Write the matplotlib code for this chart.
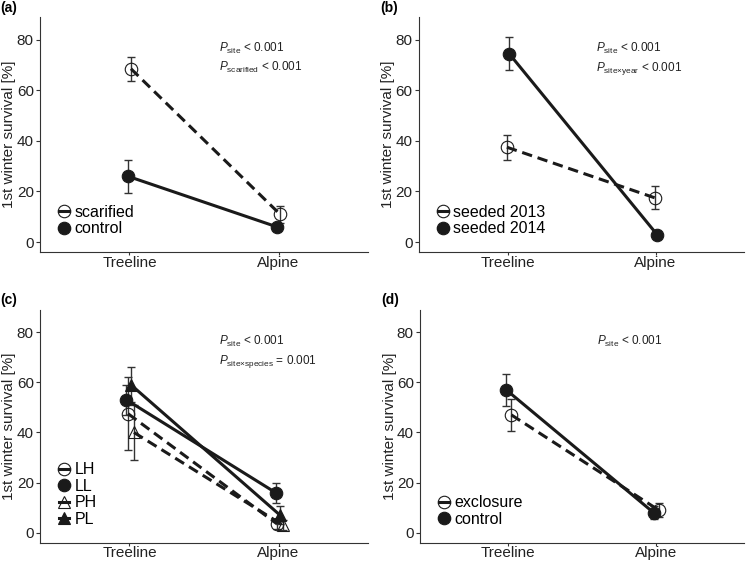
import matplotlib
matplotlib.use("Agg")
import matplotlib.pyplot as plt
from matplotlib.lines import Line2D

plt.rcParams['font.family'] = ['Liberation Sans', 'DejaVu Sans']
plt.rcParams['mathtext.fontset'] = 'custom'
plt.rcParams['mathtext.rm'] = 'Liberation Sans'
plt.rcParams['mathtext.it'] = 'Liberation Sans:italic'

sites = ['Treeline', 'Alpine']

# (a) scarification
a_names = ['scarified', 'control']
a_mean = [[68.5, 11.0], [26.0, 6.0]]
a_err = [[4.8, 3.3], [6.5, 1.2]]
a_text = [r'$P_{\mathrm{site}}$ < 0.001', r'$P_{\mathrm{scarified}}$ < 0.001']

# (b) seeding year
b_names = ['seeded 2013', 'seeded 2014']
b_mean = [[37.5, 17.5], [74.5, 3.0]]
b_err = [[5.0, 4.5], [6.5, 1.0]]
b_text = [r'$P_{\mathrm{site}}$ < 0.001', r'$P_{\mathrm{site{\times}year}}$ < 0.001']

# (c) species x provenance
c_names = ['LH', 'LL', 'PH', 'PL']
c_mean = [[47.5, 3.5], [53.0, 16.0], [40.0, 3.0], [59.0, 7.0]]
c_err = [[14.5, 2.0], [6.0, 4.0], [11.0, 2.0], [7.0, 3.5]]
c_text = [r'$P_{\mathrm{site}}$ < 0.001', r'$P_{\mathrm{site{\times}species}}$ = 0.001']

# (d) exclosure
d_names = ['exclosure', 'control']
d_mean = [[47.0, 9.0], [57.0, 8.0]]
d_err = [[6.3, 2.8], [6.3, 2.5]]
d_text = [r'$P_{\mathrm{site}}$ < 0.001']

dark = '#1a1a1a'
dash = (0, (3.4, 1.9))
open_c = dict(marker='o', mfc='none', ls=dash)
fill_c = dict(marker='o', mfc=dark, ls='-')
open_t = dict(marker='^', mfc='none', ls=dash)
fill_t = dict(marker='^', mfc=dark, ls='-')

panels = [
    ('(a)', [0.0535, 0.552, 0.4385, 0.418], a_names, a_mean, a_err, a_text,
     [open_c, fill_c], [0.01, -0.01]),
    ('(b)', [0.560, 0.552, 0.435, 0.418], b_names, b_mean, b_err, b_text,
     [open_c, fill_c], [-0.005, 0.01]),
    ('(c)', [0.0535, 0.036, 0.4385, 0.414], c_names, c_mean, c_err, c_text,
     [open_c, fill_c, open_t, fill_t], [-0.01, -0.02, 0.03, 0.01]),
    ('(d)', [0.5615, 0.036, 0.4335, 0.414], d_names, d_mean, d_err, d_text,
     [open_c, fill_c], [0.02, -0.015]),
]

fig = plt.figure(figsize=(7.48, 5.63), dpi=100)

for label, pos, names, means, errs, texts, styles, offs in panels:
    ax = fig.add_axes(pos)
    handles = []
    for name, m, e, st, o in zip(names, means, errs, styles, offs):
        xs = [1 + o, 2 + o]
        ax.errorbar(xs, m, yerr=e, fmt='none', ecolor='#333333',
                    elinewidth=1.0, capsize=3, capthick=1.0, zorder=2)
        ax.plot(xs, m, color=dark, lw=2.2, ls=st['ls'], zorder=3)
        ax.plot(xs, m, color=dark, lw=0, marker=st['marker'], ms=9,
                mfc=st['mfc'], mec=dark, mew=0.8, zorder=4)
        handles.append(Line2D([], [], color=dark, lw=2.2, ls='-',
                              marker=st['marker'], ms=9, mfc=st['mfc'],
                              mec=dark, mew=0.8, label=name))
    ax.set_xlim(0.4, 2.6)
    ax.set_ylim(-4, 89)
    ax.set_xticks([1, 2])
    ax.set_xticklabels(sites)
    ax.set_yticks([0, 20, 40, 60, 80])
    ax.tick_params(labelsize=11, colors='#333333', labelcolor='#222222',
                   length=3, width=0.8, pad=1.5)
    ax.tick_params(axis='x', length=2, pad=0.5)
    for s in ['top', 'right']:
        ax.spines[s].set_visible(False)
    for s in ['left', 'bottom']:
        ax.spines[s].set_color('#333333')
        ax.spines[s].set_linewidth(0.8)
    ax.set_ylabel('1st winter survival [%]', fontsize=11, color='#222222')
    ax.yaxis.set_label_coords(-0.072, 0.5)
    for i, t in enumerate(texts):
        ax.text(1.6, 75 - i * 7.5, t, fontsize=8.5, color='#222222',
                va='baseline', ha='left')
    ax.legend(handles=handles, loc='lower left', bbox_to_anchor=(0.025, 0.02),
              frameon=False, fontsize=11.5, handlelength=0.6,
              handletextpad=0.35, labelspacing=0.1, borderaxespad=0.3)
    ax.text(-0.12, 1.01, label, transform=ax.transAxes, fontsize=10,
            fontweight='bold', ha='left', va='bottom')

fig.savefig('out.png', dpi=100)
